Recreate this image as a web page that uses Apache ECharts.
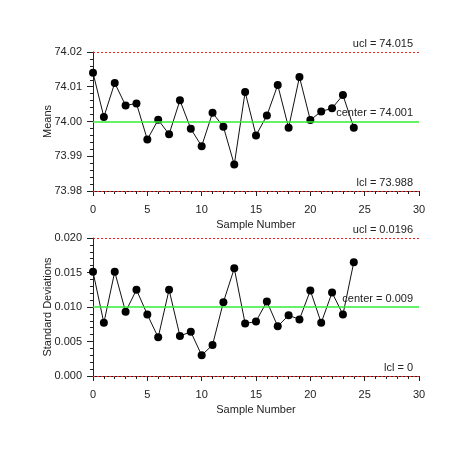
<!DOCTYPE html>
<html><head><meta charset="utf-8">
<script src="https://cdn.jsdelivr.net/npm/echarts@6/dist/echarts.min.js"></script>
<style>html,body{margin:0;padding:0;background:#fff}#c{width:460px;height:452px}</style>
</head><body><div id="c"></div>
<script>
const samples = [0,1,2,3,4,5,6,7,8,9,10,11,12,13,14,15,16,17,18,19,20,21,22,23,24];
const means = [74.0140,74.0013,74.0111,74.0046,74.0052,73.9948,74.0005,73.9963,74.0061,73.9979,73.9929,74.0025,73.9985,73.9876,74.0085,73.9960,74.0017,74.0105,73.9982,74.0128,74.0004,74.0029,74.0038,74.0076,73.9982];
const stdDevs = [0.0151,0.0077,0.0151,0.0093,0.0125,0.0089,0.0056,0.0125,0.0058,0.0064,0.0030,0.0045,0.0107,0.0156,0.0076,0.0079,0.0108,0.0072,0.0088,0.0082,0.0124,0.0077,0.0121,0.0089,0.0165];
const meanLimits = {ucl:74.0199, center:74.0018, lcl:73.9843};
const meanLabels = {ucl:'ucl = 74.015', center:'center = 74.001', lcl:'lcl = 73.988'};
const sdLimits = {ucl:0.01985, center:0.00945, lcl:0};
const sdLabels = {ucl:'ucl = 0.0196', center:'center = 0.009', lcl:'lcl = 0'};

const font = 'Liberation Sans, Arial, sans-serif';
function limitLines(lim, lab){
  const lbl = {show:true, position:'insideEndTop', color:'#222', fontSize:11, fontFamily:font, distance:[6,3]};
  return {
    symbol:'none', silent:true, animation:false,
    data:[
      {yAxis:lim.ucl, lineStyle:{color:'#ee2222', type:[2,2], width:1}, label:Object.assign({formatter:lab.ucl}, lbl)},
      {yAxis:lim.center, lineStyle:{color:'#33ee33', type:'solid', width:1.5}, label:Object.assign({formatter:lab.center}, lbl)},
      {yAxis:lim.lcl, lineStyle:{color:'#ee2222', type:[2,2], width:1}, label:Object.assign({formatter:lab.lcl}, lbl)}
    ]
  };
}
const xAxisBase = {
  type:'value', min:0, max:30, interval:5, name:'Sample Number', nameLocation:'middle', nameGap:28, nameMoveOverlap:false,
  nameTextStyle:{color:'#222', fontSize:11, fontFamily:font},
  axisLine:{lineStyle:{color:'#222'}}, axisTick:{length:5, lineStyle:{color:'#222'}},
  minorTick:{show:true, splitNumber:5, length:3, lineStyle:{color:'#222'}},
  axisLabel:{color:'#222', fontSize:11, fontFamily:font, margin:13}, splitLine:{show:false}
};
function yAxisBase(idx, min, max, interval, name, digits){
  return {gridIndex:idx, type:'value', min:min, max:max, interval:interval, name:name, nameLocation:'middle', nameGap:40, nameMoveOverlap:false,
     nameTextStyle:{color:'#222', fontSize:11, fontFamily:font},
     axisLine:{show:true, lineStyle:{color:'#222'}}, axisTick:{show:true, length:6, lineStyle:{color:'#222'}},
     minorTick:{show:true, splitNumber:5, length:3, lineStyle:{color:'#222'}},
     axisLabel:{color:'#222', fontSize:11, fontFamily:font, margin:11, formatter:v=>v.toFixed(digits)}, splitLine:{show:false}};
}
const chart = echarts.init(document.getElementById('c'));
chart.setOption({
  animation:false,
  backgroundColor:'#fff',
  grid:[{left:93, right:41, top:52, height:139},{left:93, right:41, top:238, height:138}],
  xAxis:[Object.assign({gridIndex:0}, xAxisBase), Object.assign({gridIndex:1}, xAxisBase)],
  yAxis:[
    yAxisBase(0, 73.98, 74.02, 0.01, 'Means', 2),
    yAxisBase(1, 0, 0.02, 0.005, 'Standard Deviations', 3)
  ],
  series:[
    {type:'line', xAxisIndex:0, yAxisIndex:0, data:samples.map((s,i)=>[s,means[i]]),
     symbol:'circle', symbolSize:8, itemStyle:{color:'#000'}, lineStyle:{color:'#111', width:1},
     markLine:limitLines(meanLimits, meanLabels), z:3},
    {type:'line', xAxisIndex:1, yAxisIndex:1, data:samples.map((s,i)=>[s,stdDevs[i]]),
     symbol:'circle', symbolSize:8, itemStyle:{color:'#000'}, lineStyle:{color:'#111', width:1},
     markLine:limitLines(sdLimits, sdLabels), z:3}
  ]
});
</script></body></html>
